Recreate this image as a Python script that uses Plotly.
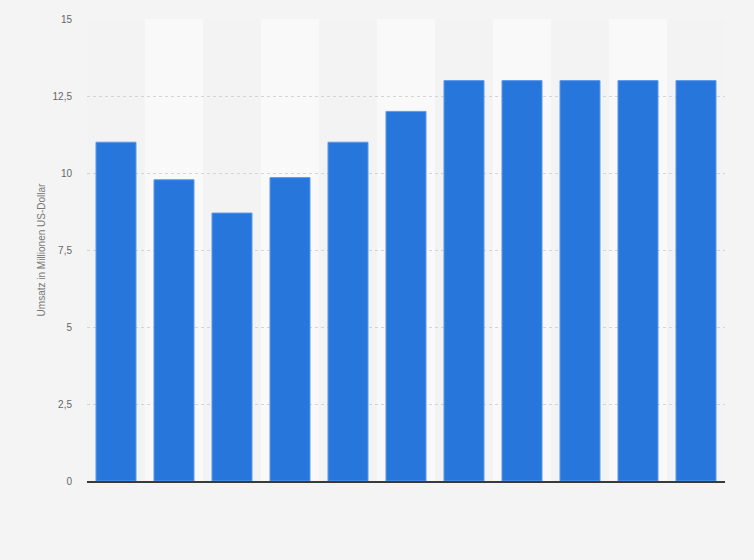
import plotly.graph_objects as go

categories = ["2009", "2010", "2011", "2012", "2013", "2014", "2015", "2016", "2017", "2018", "2019"]
values = [11.0, 9.78, 8.7, 9.85, 11.0, 12.0, 13.0, 13.0, 13.0, 13.0, 13.0]
y_ticks = [0, 2.5, 5, 7.5, 10, 12.5, 15]
y_ticktext = ["0", "2,5", "5", "7,5", "10", "12,5", "15"]
y_title = "Umsatz in Millionen US-Dollar"

fig = go.Figure()
fig.add_trace(go.Bar(
    x=categories,
    y=values,
    marker=dict(color="#2776dc", line=dict(color="#5d9aea", width=1)),
    hoverinfo="x+y",
))

shapes = []
for i, _ in enumerate(categories):
    if i % 2 == 1:
        shapes.append(dict(type="rect", xref="x", yref="paper",
                           x0=i - 0.5, x1=i + 0.5, y0=0, y1=1,
                           fillcolor="#f9f9f9", line=dict(width=0), layer="below"))

fig.update_layout(
    width=754, height=560,
    margin=dict(l=87, r=29, t=19, b=79),
    paper_bgcolor="#f4f4f4",
    plot_bgcolor="#f3f3f3",
    font=dict(family="Liberation Sans, Arial, sans-serif", size=10, color="#666666"),
    bargap=0.31,
    showlegend=False,
    shapes=shapes,
    xaxis=dict(
        type="category",
        showticklabels=False,
        showgrid=False,
        showline=True, linecolor="#3a3a3a", linewidth=1.5,
        ticks="",
        range=[-0.5, len(categories) - 0.5],
    ),
    yaxis=dict(
        range=[0, 15],
        tickvals=y_ticks,
        ticktext=y_ticktext,
        showgrid=True, gridcolor="#d4d4d4", griddash="dot", gridwidth=1,
        zeroline=False,
        ticks="", ticklabelstandoff=14,
        title=dict(text=y_title, standoff=5, font=dict(size=10, color="#777777")),
    ),
)

fig.write_html(
    "out.html",
    config={"displayModeBar": False},
    post_script="document.body.style.margin='0';document.body.style.background='#f4f4f4';",
)
